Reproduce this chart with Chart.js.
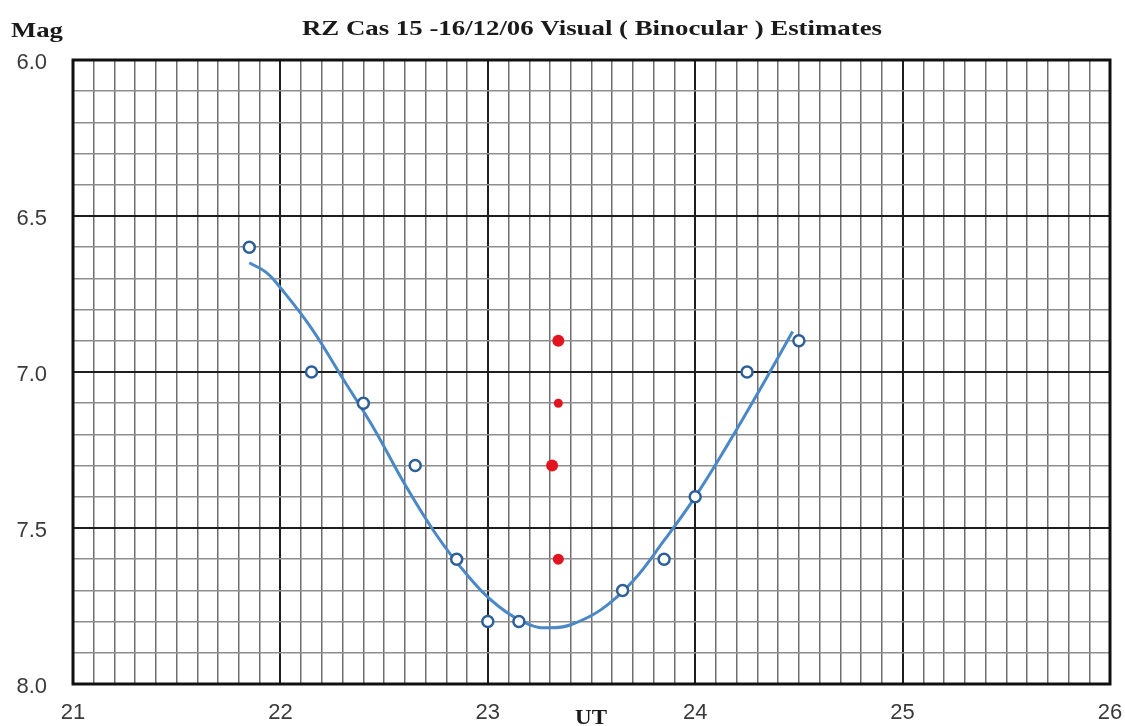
<!DOCTYPE html>
<html>
<head>
<meta charset="utf-8">
<script src="https://cdn.jsdelivr.net/npm/chart.js@4.4.1/dist/chart.umd.min.js"></script>
<style>
  html, body { margin: 0; padding: 0; background: #fff; }
  #wrap { width: 1125px; height: 726px; }
</style>
</head>
<body>
<div id="wrap"><canvas id="myChart" width="1125" height="726"></canvas></div>
<script>
// observed estimates (UT hours, magnitude)
var obsUT  = [21.85, 22.15, 22.40, 22.65, 22.85, 23.00, 23.15, 23.65, 23.85, 24.00, 24.25, 24.50];
var obsMag = [6.6, 7.0, 7.1, 7.3, 7.6, 7.8, 7.8, 7.7, 7.6, 7.4, 7.0, 6.9];

// comparison stars (red)
var compUT  = [23.34, 23.34, 23.31, 23.34];
var compMag = [6.9, 7.1, 7.3, 7.6];

// hand-drawn fit curve
var fitUT  = [21.85, 21.93, 22.00, 22.15, 22.30, 22.45, 22.60, 22.75, 22.90, 23.05, 23.20, 23.30, 23.40, 23.55, 23.70, 23.85, 24.00, 24.15, 24.30, 24.47];
var fitMag = [6.65, 6.68, 6.73, 6.86, 7.02, 7.18, 7.36, 7.52, 7.65, 7.75, 7.81, 7.82, 7.81, 7.76, 7.67, 7.54, 7.40, 7.24, 7.07, 6.87];

var xTicks = [21, 22, 23, 24, 25, 26];
var yTicks = ['6.0', '6.5', '7.0', '7.5', '8.0'];

function pts(xs, ys) {
    return xs.map(function (x, i) { return { x: x, y: ys[i] }; });
}
function isMajor(v, step) {
    var r = v / step;
    return Math.abs(r - Math.round(r)) < 1e-6;
}

var serif = '"Liberation Serif", "DejaVu Serif", serif';
var sans = '"Liberation Sans", Arial, sans-serif';

// draw text squeezed/stretched to a given width
function fitText(c, txt, x, y, w) {
    var m = c.measureText(txt).width;
    c.save();
    c.translate(x, y);
    c.scale(w / m, 1);
    c.fillText(txt, 0, 0);
    c.restore();
}

var textPlugin = {
    id: 'texts',
    afterDraw: function (chart) {
        var c = chart.ctx, a = chart.chartArea;
        c.save();
        c.strokeStyle = '#111';
        c.lineWidth = 3;
        c.strokeRect(a.left, a.top, a.right - a.left, a.bottom - a.top);
        c.fillStyle = '#1a1a1a';
        c.textBaseline = 'alphabetic';
        c.textAlign = 'left';
        c.font = 'bold 22px ' + serif;
        fitText(c, 'RZ Cas 15 -16/12/06 Visual ( Binocular ) Estimates', 302, 35, 580);
        fitText(c, 'Mag', 11, 37, 52);
        c.font = 'bold 21px ' + serif;
        fitText(c, 'UT', 575, 724, 32);
        c.restore();
    }
};

var ctx = document.getElementById('myChart');
var myChart = new Chart(ctx, {
    type: 'scatter',
    data: {
        datasets: [{
            type: 'line',
            data: pts(fitUT, fitMag),
            borderColor: '#4a88c8',
            borderWidth: 3,
            pointRadius: 0,
            tension: 0.4,
            fill: false,
            order: 3
        }, {
            data: pts(obsUT, obsMag),
            pointStyle: 'circle',
            pointRadius: 5.5,
            pointBorderWidth: 2.5,
            pointBorderColor: '#2d5f98',
            pointBackgroundColor: '#ffffff',
            order: 1
        }, {
            data: pts(compUT, compMag),
            pointRadius: [6, 4.5, 6, 5.5],
            pointBorderWidth: 0,
            pointBackgroundColor: '#e2141f',
            order: 2
        }]
    },
    plugins: [textPlugin],
    options: {
        responsive: false,
        animation: false,
        layout: { padding: { top: 60, right: 15, left: 0, bottom: 0 } },
        plugins: { legend: { display: false }, tooltip: { enabled: false } },
        scales: {
            x: {
                type: 'linear',
                min: 21, max: 26,
                afterFit: function (s) { s.height = 42; s.paddingLeft = 0; s.paddingRight = 0; },
                border: { display: false },
                grid: {
                    drawTicks: false,
                    color: function (c) { return isMajor(c.tick.value, 1) ? '#1e1e1e' : '#6e6e6e'; },
                    lineWidth: function (c) { return isMajor(c.tick.value, 1) ? 2 : 1.5; }
                },
                ticks: {
                    stepSize: 0.1,
                    autoSkip: false,
                    maxRotation: 0,
                    padding: 16,
                    color: '#3a3a3a',
                    font: { family: sans, size: 22 },
                    callback: function (v) {
                        var i = xTicks.indexOf(Math.round(v));
                        return isMajor(v, 1) && i >= 0 ? String(xTicks[i]) : '';
                    }
                }
            },
            y: {
                type: 'linear',
                reverse: true,
                min: 6, max: 8,
                afterFit: function (s) { s.width = 73; },
                border: { display: false },
                grid: {
                    drawTicks: false,
                    color: function (c) { return isMajor(c.tick.value, 0.5) ? '#1e1e1e' : '#8e8e8e'; },
                    lineWidth: function (c) { return isMajor(c.tick.value, 0.5) ? 2 : 1.5; }
                },
                ticks: {
                    stepSize: 0.1,
                    autoSkip: false,
                    padding: 26,
                    labelOffset: 3,
                    color: '#3a3a3a',
                    font: { family: sans, size: 22 },
                    callback: function (v) {
                        if (!isMajor(v, 0.5)) return '';
                        var i = Math.round((v - 6) / 0.5);
                        return yTicks[i];
                    }
                }
            }
        }
    }
});
</script>
</body>
</html>
